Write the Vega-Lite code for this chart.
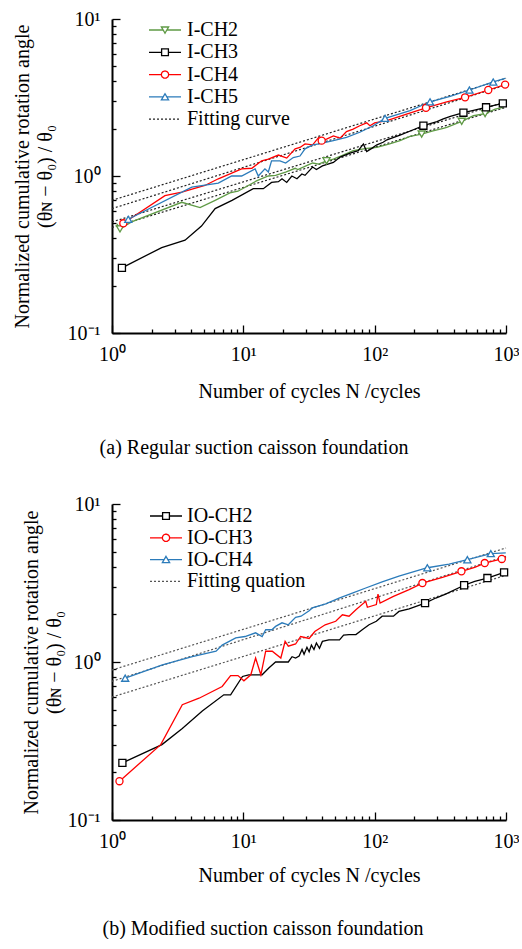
{
  "$schema": "https://vega.github.io/schema/vega-lite/v6.json",
  "padding": {"left": 12, "top": 9, "right": 0, "bottom": 0},
  "spacing": 36,
  "datasets": {
    "top": [
      {"s":"I-CH2","n":1.09,"v":0.495},{"s":"I-CH2","n":1.15,"v":0.46},{"s":"I-CH2","n":1.41,"v":0.51},{"s":"I-CH2","n":3.4,"v":0.68},{"s":"I-CH2","n":4.68,"v":0.63},{"s":"I-CH2","n":6.1,"v":0.70},{"s":"I-CH2","n":7.9,"v":0.78},{"s":"I-CH2","n":9.1,"v":0.80},{"s":"I-CH2","n":12.6,"v":0.93},{"s":"I-CH2","n":15.5,"v":1.0},{"s":"I-CH2","n":17.6,"v":1.01},{"s":"I-CH2","n":21,"v":1.06},{"s":"I-CH2","n":24.8,"v":1.12},{"s":"I-CH2","n":26,"v":1.10},{"s":"I-CH2","n":30,"v":1.16},{"s":"I-CH2","n":33.7,"v":1.21},{"s":"I-CH2","n":37.5,"v":1.19},{"s":"I-CH2","n":43,"v":1.25},{"s":"I-CH2","n":48.5,"v":1.28},{"s":"I-CH2","n":57.5,"v":1.36},{"s":"I-CH2","n":68.6,"v":1.45},{"s":"I-CH2","n":86.9,"v":1.50},{"s":"I-CH2","n":104,"v":1.52},{"s":"I-CH2","n":130,"v":1.60},{"s":"I-CH2","n":156,"v":1.68},{"s":"I-CH2","n":186,"v":1.79},{"s":"I-CH2","n":228,"v":1.85},{"s":"I-CH2","n":278,"v":1.94},{"s":"I-CH2","n":333,"v":2.01},{"s":"I-CH2","n":354,"v":2.04},{"s":"I-CH2","n":460,"v":2.23},{"s":"I-CH2","n":565,"v":2.42},{"s":"I-CH2","n":693,"v":2.50},{"s":"I-CH2","n":827,"v":2.67},{"s":"I-CH2","n":950,"v":2.74},
      {"s":"I-CH3","n":1.19,"v":0.26},{"s":"I-CH3","n":2.39,"v":0.35},{"s":"I-CH3","n":3.6,"v":0.39},{"s":"I-CH3","n":4.8,"v":0.48},{"s":"I-CH3","n":6.1,"v":0.62},{"s":"I-CH3","n":8.2,"v":0.70},{"s":"I-CH3","n":11.9,"v":0.83},{"s":"I-CH3","n":14.2,"v":0.83},{"s":"I-CH3","n":16.4,"v":0.91},{"s":"I-CH3","n":18.5,"v":0.92},{"s":"I-CH3","n":19.7,"v":0.96},{"s":"I-CH3","n":21.4,"v":0.91},{"s":"I-CH3","n":23.4,"v":1.0},{"s":"I-CH3","n":25.6,"v":0.96},{"s":"I-CH3","n":27.9,"v":1.03},{"s":"I-CH3","n":29.5,"v":1.01},{"s":"I-CH3","n":33.7,"v":1.14},{"s":"I-CH3","n":36,"v":1.10},{"s":"I-CH3","n":40,"v":1.16},{"s":"I-CH3","n":48.5,"v":1.22},{"s":"I-CH3","n":54.6,"v":1.32},{"s":"I-CH3","n":65,"v":1.40},{"s":"I-CH3","n":75,"v":1.45},{"s":"I-CH3","n":82,"v":1.60},{"s":"I-CH3","n":87,"v":1.43},{"s":"I-CH3","n":95,"v":1.50},{"s":"I-CH3","n":104,"v":1.58},{"s":"I-CH3","n":116,"v":1.64},{"s":"I-CH3","n":124,"v":1.70},{"s":"I-CH3","n":156,"v":1.82},{"s":"I-CH3","n":197,"v":1.97},{"s":"I-CH3","n":235,"v":2.09},{"s":"I-CH3","n":298,"v":2.22},{"s":"I-CH3","n":333,"v":2.31},{"s":"I-CH3","n":377,"v":2.40},{"s":"I-CH3","n":474,"v":2.53},{"s":"I-CH3","n":565,"v":2.62},{"s":"I-CH3","n":705,"v":2.74},{"s":"I-CH3","n":827,"v":2.83},{"s":"I-CH3","n":946,"v":2.90},
      {"s":"I-CH4","n":1.22,"v":0.50},{"s":"I-CH4","n":2.53,"v":0.75},{"s":"I-CH4","n":3.4,"v":0.79},{"s":"I-CH4","n":5.1,"v":0.87},{"s":"I-CH4","n":6.45,"v":0.96},{"s":"I-CH4","n":9.7,"v":1.11},{"s":"I-CH4","n":11.6,"v":1.12},{"s":"I-CH4","n":13.8,"v":1.25},{"s":"I-CH4","n":15.5,"v":1.28},{"s":"I-CH4","n":18.5,"v":1.36},{"s":"I-CH4","n":21.4,"v":1.30},{"s":"I-CH4","n":24.8,"v":1.49},{"s":"I-CH4","n":27,"v":1.52},{"s":"I-CH4","n":29.5,"v":1.60},{"s":"I-CH4","n":33.7,"v":1.58},{"s":"I-CH4","n":37.5,"v":1.76},{"s":"I-CH4","n":39.5,"v":1.68},{"s":"I-CH4","n":43,"v":1.72},{"s":"I-CH4","n":48.5,"v":1.80},{"s":"I-CH4","n":54.6,"v":1.74},{"s":"I-CH4","n":61,"v":1.92},{"s":"I-CH4","n":68.6,"v":1.99},{"s":"I-CH4","n":77,"v":2.09},{"s":"I-CH4","n":87,"v":2.18},{"s":"I-CH4","n":92,"v":2.09},{"s":"I-CH4","n":100,"v":2.18},{"s":"I-CH4","n":124,"v":2.25},{"s":"I-CH4","n":175,"v":2.48},{"s":"I-CH4","n":246,"v":2.72},{"s":"I-CH4","n":354,"v":2.97},{"s":"I-CH4","n":488,"v":3.17},{"s":"I-CH4","n":733,"v":3.53},{"s":"I-CH4","n":985,"v":3.82},
      {"s":"I-CH5","n":1.33,"v":0.53},{"s":"I-CH5","n":4.05,"v":0.85},{"s":"I-CH5","n":6.45,"v":0.90},{"s":"I-CH5","n":8.15,"v":1.0},{"s":"I-CH5","n":9.7,"v":1.0},{"s":"I-CH5","n":12.3,"v":1.11},{"s":"I-CH5","n":13.0,"v":1.0},{"s":"I-CH5","n":14.6,"v":1.11},{"s":"I-CH5","n":15.5,"v":1.06},{"s":"I-CH5","n":16.4,"v":1.25},{"s":"I-CH5","n":19.0,"v":1.25},{"s":"I-CH5","n":21,"v":1.21},{"s":"I-CH5","n":24,"v":1.31},{"s":"I-CH5","n":27,"v":1.34},{"s":"I-CH5","n":29.5,"v":1.49},{"s":"I-CH5","n":33.7,"v":1.58},{"s":"I-CH5","n":37.5,"v":1.60},{"s":"I-CH5","n":48.5,"v":1.68},{"s":"I-CH5","n":61,"v":1.76},{"s":"I-CH5","n":77,"v":1.90},{"s":"I-CH5","n":97.5,"v":2.09},{"s":"I-CH5","n":120,"v":2.33},{"s":"I-CH5","n":186,"v":2.61},{"s":"I-CH5","n":264,"v":2.97},{"s":"I-CH5","n":375,"v":3.22},{"s":"I-CH5","n":527,"v":3.53},{"s":"I-CH5","n":800,"v":3.97},{"s":"I-CH5","n":985,"v":4.19}
    ],
    "topMarks": [
      {"s":"I-CH2","n":1.15,"v":0.46},{"s":"I-CH2","n":43,"v":1.25},{"s":"I-CH2","n":228,"v":1.85},{"s":"I-CH2","n":460,"v":2.23},{"s":"I-CH2","n":693,"v":2.50},
      {"s":"I-CH3","n":1.19,"v":0.26},{"s":"I-CH3","n":235,"v":2.09},{"s":"I-CH3","n":474,"v":2.53},{"s":"I-CH3","n":705,"v":2.74},{"s":"I-CH3","n":946,"v":2.90},
      {"s":"I-CH4","n":1.22,"v":0.50},{"s":"I-CH4","n":39.5,"v":1.68},{"s":"I-CH4","n":246,"v":2.72},{"s":"I-CH4","n":488,"v":3.17},{"s":"I-CH4","n":733,"v":3.53},{"s":"I-CH4","n":985,"v":3.82},
      {"s":"I-CH5","n":1.33,"v":0.53},{"s":"I-CH5","n":120,"v":2.33},{"s":"I-CH5","n":264,"v":2.97},{"s":"I-CH5","n":527,"v":3.53},{"s":"I-CH5","n":800,"v":3.97}
    ],
    "topFit": [
      {"f":"F1","n":1,"v":0.70},{"f":"F1","n":1000,"v":4.19},
      {"f":"F2","n":1,"v":0.62},{"f":"F2","n":1000,"v":3.80},
      {"f":"F3","n":1,"v":0.51},{"f":"F3","n":1000,"v":2.97},
      {"f":"F4","n":1,"v":0.47},{"f":"F4","n":1000,"v":2.74}
    ],
    "bot": [
      {"s":"IO-CH2","n":1.2,"v":0.23},{"s":"IO-CH2","n":2.4,"v":0.30},{"s":"IO-CH2","n":3.43,"v":0.38},{"s":"IO-CH2","n":4.87,"v":0.49},{"s":"IO-CH2","n":7.1,"v":0.62},{"s":"IO-CH2","n":8.0,"v":0.62},{"s":"IO-CH2","n":9.85,"v":0.81},{"s":"IO-CH2","n":11,"v":0.83},{"s":"IO-CH2","n":13.9,"v":0.83},{"s":"IO-CH2","n":15.7,"v":0.92},{"s":"IO-CH2","n":17.6,"v":1.0},{"s":"IO-CH2","n":22,"v":1.0},{"s":"IO-CH2","n":23.5,"v":1.08},{"s":"IO-CH2","n":25,"v":1.06},{"s":"IO-CH2","n":26.6,"v":1.09},{"s":"IO-CH2","n":28,"v":1.20},{"s":"IO-CH2","n":29,"v":1.12},{"s":"IO-CH2","n":30.5,"v":1.24},{"s":"IO-CH2","n":31.7,"v":1.16},{"s":"IO-CH2","n":33,"v":1.28},{"s":"IO-CH2","n":34.5,"v":1.20},{"s":"IO-CH2","n":36,"v":1.32},{"s":"IO-CH2","n":38,"v":1.22},{"s":"IO-CH2","n":40,"v":1.35},{"s":"IO-CH2","n":44.8,"v":1.38},{"s":"IO-CH2","n":54,"v":1.38},{"s":"IO-CH2","n":58,"v":1.48},{"s":"IO-CH2","n":63.8,"v":1.49},{"s":"IO-CH2","n":72,"v":1.49},{"s":"IO-CH2","n":80.4,"v":1.60},{"s":"IO-CH2","n":90.6,"v":1.72},{"s":"IO-CH2","n":103,"v":1.81},{"s":"IO-CH2","n":114,"v":1.95},{"s":"IO-CH2","n":139,"v":1.95},{"s":"IO-CH2","n":153,"v":2.09},{"s":"IO-CH2","n":183,"v":2.17},{"s":"IO-CH2","n":242,"v":2.36},{"s":"IO-CH2","n":292,"v":2.54},{"s":"IO-CH2","n":347,"v":2.69},{"s":"IO-CH2","n":480,"v":3.06},{"s":"IO-CH2","n":578,"v":3.24},{"s":"IO-CH2","n":722,"v":3.40},{"s":"IO-CH2","n":967,"v":3.69},
      {"s":"IO-CH3","n":1.14,"v":0.176},{"s":"IO-CH3","n":2.35,"v":0.30},{"s":"IO-CH3","n":3.43,"v":0.537},{"s":"IO-CH3","n":4.6,"v":0.59},{"s":"IO-CH3","n":6.9,"v":0.70},{"s":"IO-CH3","n":8.0,"v":0.82},{"s":"IO-CH3","n":9.1,"v":0.82},{"s":"IO-CH3","n":10.1,"v":0.76},{"s":"IO-CH3","n":11.4,"v":0.83},{"s":"IO-CH3","n":12.4,"v":1.06},{"s":"IO-CH3","n":13.6,"v":0.83},{"s":"IO-CH3","n":14.8,"v":1.17},{"s":"IO-CH3","n":16.6,"v":1.17},{"s":"IO-CH3","n":19.3,"v":1.06},{"s":"IO-CH3","n":20.8,"v":1.35},{"s":"IO-CH3","n":22,"v":1.26},{"s":"IO-CH3","n":25,"v":1.30},{"s":"IO-CH3","n":27.3,"v":1.45},{"s":"IO-CH3","n":31.7,"v":1.41},{"s":"IO-CH3","n":35,"v":1.56},{"s":"IO-CH3","n":42,"v":1.72},{"s":"IO-CH3","n":50.5,"v":1.81},{"s":"IO-CH3","n":56.8,"v":1.99},{"s":"IO-CH3","n":63.8,"v":1.95},{"s":"IO-CH3","n":72,"v":2.14},{"s":"IO-CH3","n":85.5,"v":2.42},{"s":"IO-CH3","n":88,"v":2.22},{"s":"IO-CH3","n":103,"v":2.31},{"s":"IO-CH3","n":106,"v":2.69},{"s":"IO-CH3","n":110,"v":2.36},{"s":"IO-CH3","n":139,"v":2.60},{"s":"IO-CH3","n":183,"v":2.87},{"s":"IO-CH3","n":231,"v":3.16},{"s":"IO-CH3","n":328,"v":3.43},{"s":"IO-CH3","n":458,"v":3.75},{"s":"IO-CH3","n":578,"v":3.97},{"s":"IO-CH3","n":689,"v":4.23},{"s":"IO-CH3","n":929,"v":4.49},{"s":"IO-CH3","n":1000,"v":4.62},
      {"s":"IO-CH4","n":1.26,"v":0.79},{"s":"IO-CH4","n":2.42,"v":0.96},{"s":"IO-CH4","n":4.09,"v":1.08},{"s":"IO-CH4","n":6.2,"v":1.17},{"s":"IO-CH4","n":6.9,"v":1.28},{"s":"IO-CH4","n":8.75,"v":1.42},{"s":"IO-CH4","n":10.3,"v":1.45},{"s":"IO-CH4","n":12.4,"v":1.53},{"s":"IO-CH4","n":13.9,"v":1.45},{"s":"IO-CH4","n":14.8,"v":1.60},{"s":"IO-CH4","n":16.5,"v":1.60},{"s":"IO-CH4","n":17.6,"v":1.68},{"s":"IO-CH4","n":19.7,"v":1.77},{"s":"IO-CH4","n":22,"v":1.72},{"s":"IO-CH4","n":25,"v":1.92},{"s":"IO-CH4","n":27.5,"v":1.95},{"s":"IO-CH4","n":31.7,"v":2.11},{"s":"IO-CH4","n":33.5,"v":2.20},{"s":"IO-CH4","n":42.4,"v":2.33},{"s":"IO-CH4","n":53.6,"v":2.54},{"s":"IO-CH4","n":67.6,"v":2.73},{"s":"IO-CH4","n":85.5,"v":2.94},{"s":"IO-CH4","n":114,"v":3.21},{"s":"IO-CH4","n":153,"v":3.49},{"s":"IO-CH4","n":252,"v":3.95},{"s":"IO-CH4","n":369,"v":4.17},{"s":"IO-CH4","n":508,"v":4.44},{"s":"IO-CH4","n":766,"v":4.85},{"s":"IO-CH4","n":996,"v":4.90}
    ],
    "botMarks": [
      {"s":"IO-CH2","n":1.2,"v":0.23},{"s":"IO-CH2","n":242,"v":2.36},{"s":"IO-CH2","n":480,"v":3.06},{"s":"IO-CH2","n":722,"v":3.40},{"s":"IO-CH2","n":967,"v":3.69},
      {"s":"IO-CH3","n":1.14,"v":0.176},{"s":"IO-CH3","n":231,"v":3.16},{"s":"IO-CH3","n":458,"v":3.75},{"s":"IO-CH3","n":689,"v":4.23},{"s":"IO-CH3","n":929,"v":4.49},
      {"s":"IO-CH4","n":1.26,"v":0.79},{"s":"IO-CH4","n":252,"v":3.95},{"s":"IO-CH4","n":508,"v":4.44},{"s":"IO-CH4","n":766,"v":4.85}
    ],
    "botFit": [
      {"f":"F1","n":1,"v":0.89},{"f":"F1","n":1000,"v":5.27},
      {"f":"F2","n":1,"v":0.755},{"f":"F2","n":1000,"v":4.67},
      {"f":"F3","n":1,"v":0.60},{"f":"F3","n":1000,"v":3.54}
    ]
  },
  "vconcat": [
    {
      "width": 394,
      "height": 314,
      "title": {"text": "(a) Regular suction caisson foundation", "orient": "bottom", "anchor": "middle", "frame": "group", "offset": 37, "dx": -55},
      "encoding": {
        "x": {"field": "n", "type": "quantitative", "scale": {"type": "log", "domain": [1, 1000], "nice": false},
          "axis": {"title": "Number of cycles N /cycles", "values": [1,2,3,4,5,6,7,8,9,10,20,30,40,50,60,70,80,90,100,200,300,400,500,600,700,800,900,1000],
            "labelExpr": "datum.value == 1 ? '10⁰' : datum.value == 10 ? '10¹' : datum.value == 100 ? '10²' : datum.value == 1000 ? '10³' : ''",
            "tickSize": {"condition": {"test": "datum.value == 1 || datum.value == 10 || datum.value == 100 || datum.value == 1000", "value": -8}, "value": -4},
            "labelPadding": 19, "titlePadding": 13}},
        "y": {"field": "v", "type": "quantitative", "scale": {"type": "log", "domain": [0.1, 10], "nice": false},
          "axis": {"title": ["Normalized cumulative rotation angle", "(θɴ − θ₀) / θ₀"], "values": [0.1,0.2,0.3,0.4,0.5,0.6,0.7,0.8,0.9,1,2,3,4,5,6,7,8,9,10],
            "labelExpr": "datum.value == 0.1 ? '10⁻¹' : datum.value == 1 ? '10⁰' : datum.value == 10 ? '10¹' : ''",
            "tickSize": {"condition": {"test": "datum.value == 0.1 || datum.value == 1 || datum.value == 10", "value": -8}, "value": -4},
            "labelPadding": 20, "titlePadding": 12, "titleLineHeight": 23}}
      },
      "layer": [
        {
          "data": {"name": "topFit"},
          "mark": {"type": "line", "strokeDash": [2, 2], "strokeWidth": 1.2, "color": "#222"},
          "encoding": {"detail": {"field": "f"}}
        },
        {
          "data": {"name": "top"},
          "mark": {"type": "line", "strokeWidth": 1.3},
          "encoding": {
            "color": {"field": "s", "type": "nominal", "scale": {"domain": ["I-CH2","I-CH3","I-CH4","I-CH5"], "range": ["#5f9a45","#000000","#ff0000","#2b7bba"]}, "legend": null}
          }
        },
        {
          "data": {"name": "topMarks"},
          "mark": {"type": "point", "filled": true, "fill": "white", "strokeWidth": 1.3, "size": 50, "opacity": 1},
          "encoding": {
            "stroke": {"field": "s", "type": "nominal", "scale": {"domain": ["I-CH2","I-CH3","I-CH4","I-CH5"], "range": ["#5f9a45","#000000","#ff0000","#2b7bba"]}, "legend": null},
            "shape": {"field": "s", "type": "nominal", "scale": {"domain": ["I-CH2","I-CH3","I-CH4","I-CH5"], "range": ["triangle-down","square","circle","triangle-up"]}, "legend": null}
          }
        },
        {
          "data": {"name": "topMarks"},
          "transform": [{"filter": "false"}],
          "mark": {"type": "point", "filled": false, "strokeWidth": 1.3, "opacity": 1},
          "encoding": {
            "color": {"field": "s", "type": "nominal",
              "scale": {"domain": ["I-CH2","I-CH3","I-CH4","I-CH5","Fitting curve"], "range": ["#5f9a45","#000000","#ff0000","#2b7bba","#222222"]},
              "legend": {"title": null, "orient": "none", "legendX": 43, "legendY": 1, "padding": 0, "symbolSize": 64, "symbolStrokeWidth": 1.3, "labelOffset": 12, "rowPadding": 2.3,
                "encode": {"labels": {"update": {"fill": {"signal": "datum.value === 'Fitting curve' ? '#555555' : '#000000'"}}}}}},
            "shape": {"field": "s", "type": "nominal",
              "scale": {"domain": ["I-CH2","I-CH3","I-CH4","I-CH5","Fitting curve"], "range": [
                "M-4,0H-0.45M0.45,0H4M-0.9,-0.75H0.9L0,0.8Z",
                "M-4,0H-0.85M0.85,0H4M-0.85,-0.85H0.85V0.85H-0.85Z",
                "M-4,0H-0.9M0.9,0H4M-0.9,0A0.9,0.9,0,1,0,0.9,0A0.9,0.9,0,1,0,-0.9,0Z",
                "M-4,0H-0.45M0.45,0H4M-0.9,0.75H0.9L0,-0.8Z",
                "M-4,0H4"]},
              "legend": {"title": null}},
            "strokeDash": {"field": "s", "type": "nominal",
              "scale": {"domain": ["I-CH2","I-CH3","I-CH4","I-CH5","Fitting curve"], "range": [[1,0],[1,0],[1,0],[1,0],[2,2]]},
              "legend": {"title": null}}
          }
        }
      ],
      "resolve": {"scale": {"color": "independent", "stroke": "independent", "shape": "independent", "strokeDash": "independent"}}
    },
    {
      "width": 394,
      "height": 316,
      "title": {"text": "(b) Modified suction caisson foundation", "orient": "bottom", "anchor": "middle", "frame": "group", "offset": 34, "dx": -46},
      "encoding": {
        "x": {"field": "n", "type": "quantitative", "scale": {"type": "log", "domain": [1, 1000], "nice": false},
          "axis": {"title": "Number of cycles N /cycles", "values": [1,2,3,4,5,6,7,8,9,10,20,30,40,50,60,70,80,90,100,200,300,400,500,600,700,800,900,1000],
            "labelExpr": "datum.value == 1 ? '10⁰' : datum.value == 10 ? '10¹' : datum.value == 100 ? '10²' : datum.value == 1000 ? '10³' : ''",
            "tickSize": {"condition": {"test": "datum.value == 1 || datum.value == 10 || datum.value == 100 || datum.value == 1000", "value": -8}, "value": -4},
            "labelPadding": 19, "titlePadding": 10}},
        "y": {"field": "v", "type": "quantitative", "scale": {"type": "log", "domain": [0.1, 10], "nice": false},
          "axis": {"title": ["Normalized cumulative rotation angle", "(θɴ − θ₀) / θ₀"], "values": [0.1,0.2,0.3,0.4,0.5,0.6,0.7,0.8,0.9,1,2,3,4,5,6,7,8,9,10],
            "labelExpr": "datum.value == 0.1 ? '10⁻¹' : datum.value == 1 ? '10⁰' : datum.value == 10 ? '10¹' : ''",
            "tickSize": {"condition": {"test": "datum.value == 0.1 || datum.value == 1 || datum.value == 10", "value": -8}, "value": -4},
            "labelPadding": 20, "titlePadding": 3, "titleLineHeight": 23}}
      },
      "layer": [
        {
          "data": {"name": "botFit"},
          "mark": {"type": "line", "strokeDash": [2, 2], "strokeWidth": 1.2, "color": "#555"},
          "encoding": {"detail": {"field": "f"}}
        },
        {
          "data": {"name": "bot"},
          "mark": {"type": "line", "strokeWidth": 1.3},
          "encoding": {
            "color": {"field": "s", "type": "nominal", "scale": {"domain": ["IO-CH2","IO-CH3","IO-CH4"], "range": ["#000000","#ff0000","#2b7bba"]}, "legend": null}
          }
        },
        {
          "data": {"name": "botMarks"},
          "mark": {"type": "point", "filled": true, "fill": "white", "strokeWidth": 1.3, "size": 50, "opacity": 1},
          "encoding": {
            "stroke": {"field": "s", "type": "nominal", "scale": {"domain": ["IO-CH2","IO-CH3","IO-CH4"], "range": ["#000000","#ff0000","#2b7bba"]}, "legend": null},
            "shape": {"field": "s", "type": "nominal", "scale": {"domain": ["IO-CH2","IO-CH3","IO-CH4"], "range": ["square","circle","triangle-up"]}, "legend": null}
          }
        },
        {
          "data": {"name": "botMarks"},
          "transform": [{"filter": "false"}],
          "mark": {"type": "point", "filled": false, "strokeWidth": 1.3, "opacity": 1},
          "encoding": {
            "color": {"field": "s", "type": "nominal",
              "scale": {"domain": ["IO-CH2","IO-CH3","IO-CH4","Fitting quation"], "range": ["#000000","#ff0000","#2b7bba","#555555"]},
              "legend": {"title": null, "orient": "none", "legendX": 44, "legendY": 2, "padding": 0, "symbolSize": 64, "symbolStrokeWidth": 1.3, "labelOffset": 11, "rowPadding": 1.8,
                "encode": {"labels": {"update": {"fill": {"signal": "datum.value === 'Fitting quation' ? '#444444' : '#000000'"}}}}}},
            "shape": {"field": "s", "type": "nominal",
              "scale": {"domain": ["IO-CH2","IO-CH3","IO-CH4","Fitting quation"], "range": [
                "M-4,0H-0.85M0.85,0H4M-0.85,-0.85H0.85V0.85H-0.85Z",
                "M-4,0H-0.9M0.9,0H4M-0.9,0A0.9,0.9,0,1,0,0.9,0A0.9,0.9,0,1,0,-0.9,0Z",
                "M-4,0H-0.45M0.45,0H4M-0.9,0.75H0.9L0,-0.8Z",
                "M-4,0H4"]},
              "legend": {"title": null}},
            "strokeDash": {"field": "s", "type": "nominal",
              "scale": {"domain": ["IO-CH2","IO-CH3","IO-CH4","Fitting quation"], "range": [[1,0],[1,0],[1,0],[2,2]]},
              "legend": {"title": null}}
          }
        }
      ],
      "resolve": {"scale": {"color": "independent", "stroke": "independent", "shape": "independent", "strokeDash": "independent"}}
    }
  ],
  "config": {
    "view": {"stroke": null},
    "font": "Liberation Serif",
    "axis": {"grid": false, "domainColor": "#000", "domainWidth": 2, "tickColor": "#000", "tickWidth": 1.3,
      "labelFont": "Liberation Serif", "labelFontSize": 20, "labelColor": "#000", "labelFlush": false, "labelOverlap": false,
      "titleFont": "Liberation Serif", "titleFontSize": 20, "titleFontWeight": "normal", "titleColor": "#000"},
    "legend": {"labelFont": "Liberation Serif", "labelFontSize": 20, "labelColor": "#000"},
    "title": {"font": "Liberation Serif", "fontSize": 20, "fontWeight": "normal", "color": "#000"}
  }
}
